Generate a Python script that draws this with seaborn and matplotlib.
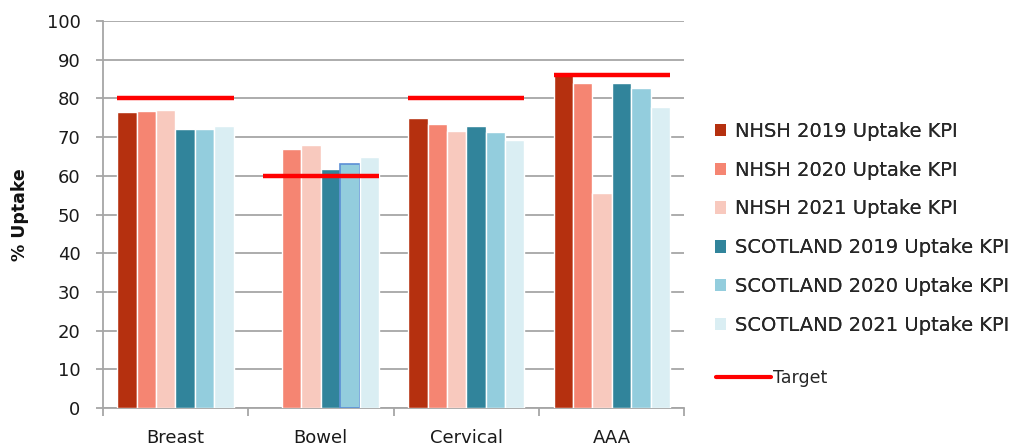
import matplotlib
matplotlib.use("Agg")
import matplotlib.pyplot as plt
from matplotlib.lines import Line2D
from matplotlib.patches import Patch
import numpy as np
import pandas as pd
import seaborn as sns

categories = ["Breast", "Bowel", "Cervical", "AAA"]
series = ["NHSH 2019 Uptake KPI", "NHSH 2020 Uptake KPI", "NHSH 2021 Uptake KPI",
          "SCOTLAND 2019 Uptake KPI", "SCOTLAND 2020 Uptake KPI", "SCOTLAND 2021 Uptake KPI"]
nhsh_2019 = [76.5, np.nan, 75.0, 86.0]
nhsh_2020 = [76.8, 67.0, 73.4, 83.9]
nhsh_2021 = [77.0, 68.0, 71.5, 55.6]
scot_2019 = [72.1, 61.7, 73.0, 84.1]
scot_2020 = [72.1, 63.0, 71.2, 82.6]
scot_2021 = [73.0, 64.8, 69.2, 77.9]
target = [80, 60, 80, 86]
yticks = list(range(0, 101, 10))

colors = ["#B5300F", "#F58572", "#F8C9BE", "#31849B", "#93CDDD", "#DAEEF3"]

rows = []
for name, vals in zip(series, [nhsh_2019, nhsh_2020, nhsh_2021, scot_2019, scot_2020, scot_2021]):
    for cat, v in zip(categories, vals):
        rows.append([cat, name, v])
df = pd.DataFrame(rows, columns=["screening", "series", "uptake"])

sns.set_style("white")
plt.rcParams["font.family"] = ["DejaVu Sans"]

fig = plt.figure(figsize=(10.17, 4.47), dpi=100)
ax = fig.add_axes([0.101, 0.087, 0.572, 0.866])

sns.barplot(data=df, x="screening", y="uptake", hue="series", order=categories,
            hue_order=series, palette=colors, width=0.8, errorbar=None,
            saturation=1, legend=False, ax=ax, zorder=3)

# the highlighted Bowel / Scotland 2020 bar has a blue outline
bowel_scot20 = 1 - 0.4 + 0.8 / 6 * 4.5
for p in ax.patches:
    if abs(p.get_x() + p.get_width() / 2 - bowel_scot20) < 0.01:
        p.set_edgecolor("#5B8FD5")
        p.set_linewidth(1.2)

xs = np.arange(len(categories))
ax.hlines(target, xs - 0.4, xs + 0.4, color="#FF0000", linewidth=3.2, zorder=4)

ax.set_ylim(0, 100)
ax.set_xlim(-0.5, len(categories) - 0.5)
ax.set_yticks(yticks)
ax.yaxis.grid(True, color="#A6A6A6", linewidth=1.3, zorder=0)
ax.set_axisbelow(True)
for s in ["top", "right"]:
    ax.spines[s].set_visible(False)
for s in ["left", "bottom"]:
    ax.spines[s].set_color("#A6A6A6")
    ax.spines[s].set_linewidth(1.3)

ax.tick_params(axis="y", left=True, length=5, width=1.3, color="#A6A6A6", direction="out",
               labelsize=13, pad=11, labelcolor="#1a1a1a")
ax.set_xticks(xs)
ax.set_xticklabels(categories)
ax.tick_params(axis="x", length=0, labelsize=13, pad=15, labelcolor="#1a1a1a")
ax.set_xticks(np.arange(len(categories) + 1) - 0.5, minor=True)
ax.tick_params(axis="x", which="minor", bottom=True, length=6, width=1.3,
               color="#A6A6A6", direction="out")

ax.set_xlabel("")
ax.set_ylabel("% Uptake", fontsize=12.5, fontweight="bold", labelpad=13, color="#111111")

handles = [Patch(facecolor=c, edgecolor="none") for c in colors]
leg1 = fig.legend(handles, series, loc="upper left", bbox_to_anchor=(0.695, 0.745),
                  frameon=False, fontsize=14, handlelength=0.6, handleheight=0.6,
                  handletextpad=0.45, labelspacing=1.02, borderaxespad=0)
fig.add_artist(leg1)
fig.legend([Line2D([0], [0], color="#FF0000", linewidth=3)], ["Target"], loc="upper left",
           bbox_to_anchor=(0.697, 0.19), frameon=False, fontsize=12.5,
           handlelength=3.2, handletextpad=0.1, borderaxespad=0)

fig.savefig("out.png", dpi=100)
